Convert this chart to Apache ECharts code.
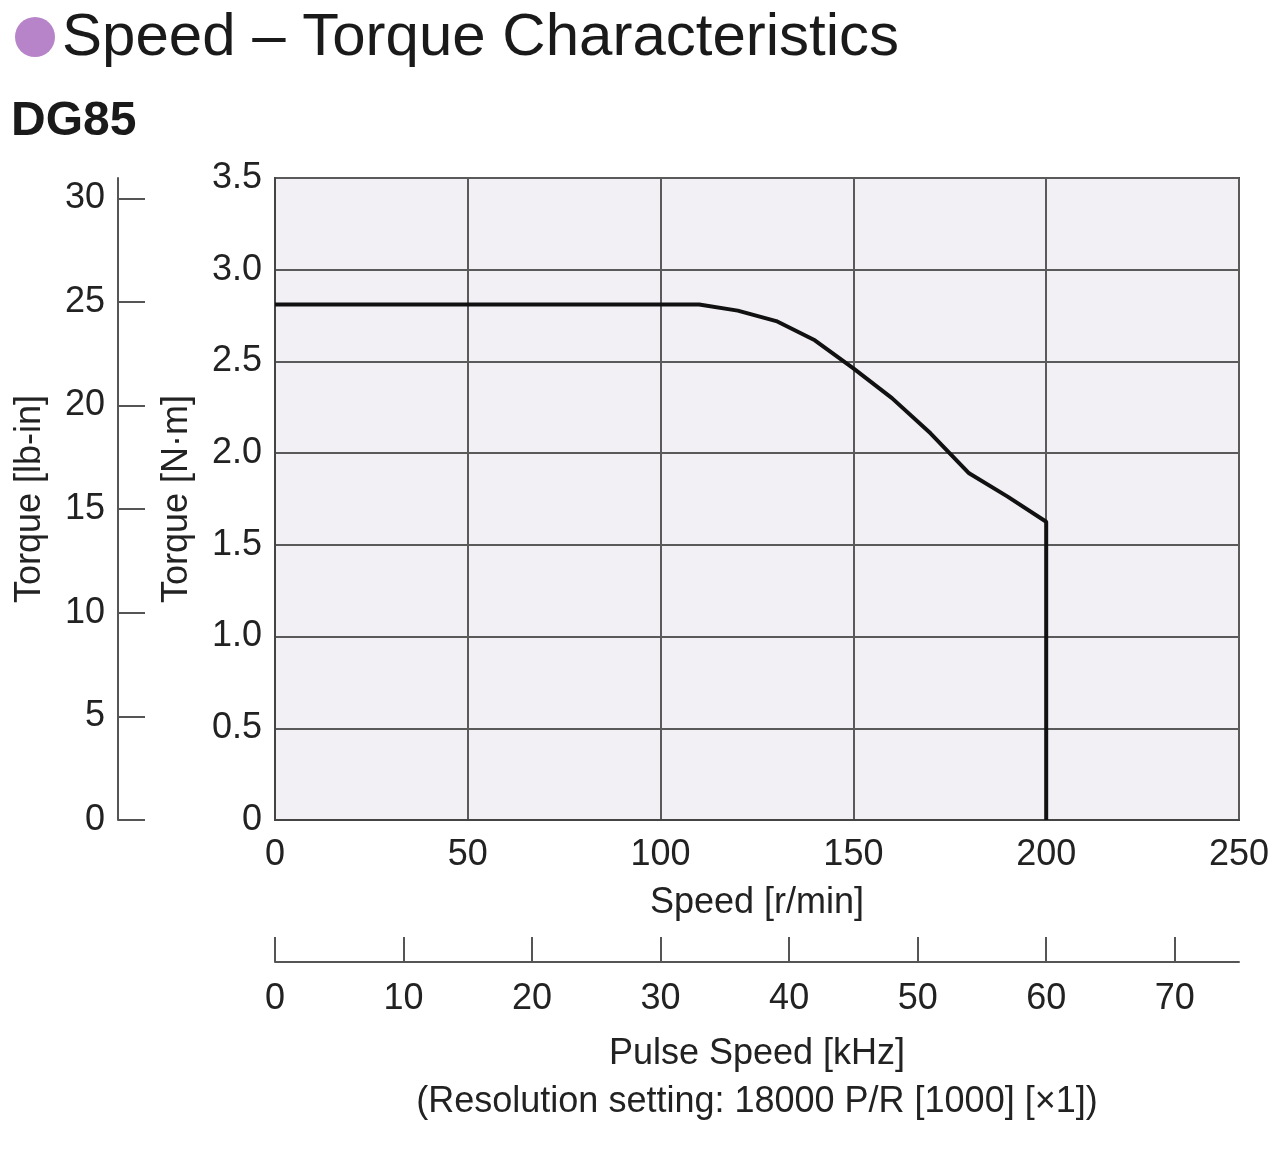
<!DOCTYPE html>
<html>
<head>
<meta charset="utf-8">
<script src="https://cdn.jsdelivr.net/npm/echarts@6/dist/echarts.min.js"></script>
<style>html,body{margin:0;padding:0;background:#fff;}#c{width:1280px;height:1155px;}</style>
</head>
<body>
<div id="c"></div>
<script>
// Data
const speed = [0, 110, 120, 130, 140, 150, 160, 170, 180, 190, 200, 200];
const torqueNm = [2.81, 2.81, 2.777, 2.72, 2.615, 2.462, 2.30, 2.108, 1.89, 1.763, 1.626, 0];
const lbinTicks = [0, 5, 10, 15, 20, 25, 30];
const pulseTicks = [0, 10, 20, 30, 40, 50, 60, 70];
const NM_TO_LBIN = 8.8507;

const FONT = 'Liberation Sans, Arial, sans-serif';
const chart = echarts.init(document.getElementById('c'), null, {renderer: 'canvas'});
const lbl = {fontFamily: FONT, fontSize: 36, color: '#222'};

chart.setOption({
  animation: false,
  backgroundColor: '#fff',
  graphic: [
    {type: 'circle', shape: {cx: 35, cy: 37, r: 20}, style: {fill: '#b784c9'}},
    {type: 'text', left: 62, top: 8, style: {text: 'Speed – Torque Characteristics', font: '60px ' + FONT, fill: '#1a1a1a'}},
    {type: 'text', left: 11, top: 98, style: {text: 'DG85', font: 'bold 48px ' + FONT, fill: '#1a1a1a'}}
  ],
  grid: {left: 275, right: 41, top: 178, bottom: 335, show: true, backgroundColor: '#f3f0f5', borderColor: '#444', borderWidth: 2},
  xAxis: [
    {
      type: 'value', min: 0, max: 250, interval: 50, position: 'bottom',
      axisLine: {show: true, lineStyle: {color: '#444', width: 2}},
      axisTick: {show: false},
      splitLine: {show: true, lineStyle: {color: '#5a5a5a', width: 2}},
      axisLabel: Object.assign({margin: 17}, lbl),
      name: 'Speed [r/min]', nameLocation: 'middle', nameGap: 65,
      nameTextStyle: lbl
    },
    {
      type: 'value', min: 0, max: 75, position: 'bottom', offset: 142,
      axisLine: {show: true, onZero: false, lineStyle: {color: '#555', width: 2}},
      axisTick: {show: true, inside: true, length: 25, customValues: pulseTicks, lineStyle: {color: '#555', width: 2}},
      splitLine: {show: false},
      axisLabel: Object.assign({margin: 19, customValues: pulseTicks}, lbl),
      name: 'Pulse Speed [kHz]\n(Resolution setting: 18000 P/R [1000] [×1])', nameLocation: 'middle', nameGap: 68,
      nameTextStyle: Object.assign({lineHeight: 48, align: 'center'}, lbl)
    }
  ],
  yAxis: [
    {
      type: 'value', min: 0, max: 3.5, interval: 0.5, position: 'left',
      axisLine: {show: true, lineStyle: {color: '#444', width: 2}},
      axisTick: {show: false},
      splitLine: {show: true, lineStyle: {color: '#5a5a5a', width: 2}},
      axisLabel: Object.assign({margin: 13, padding: [6, 0, 0, 0], formatter: v => v === 0 ? '0' : v.toFixed(1)}, lbl),
      name: 'Torque [N·m]', nameLocation: 'middle', nameGap: 80, nameRotate: 90,
      nameTextStyle: lbl
    },
    {
      type: 'value', min: 0, max: 3.5 * NM_TO_LBIN, position: 'left', offset: 157,
      axisLine: {show: true, onZero: false, lineStyle: {color: '#555', width: 2}},
      axisTick: {show: true, inside: true, length: 27, customValues: lbinTicks, lineStyle: {color: '#555', width: 2}},
      splitLine: {show: false},
      axisLabel: Object.assign({margin: 13, padding: [4, 0, 0, 0], customValues: lbinTicks}, lbl),
      name: 'Torque [lb-in]', nameLocation: 'middle', nameGap: 70, nameRotate: 90,
      nameTextStyle: lbl
    }
  ],
  series: [{
    type: 'line', xAxisIndex: 0, yAxisIndex: 0,
    data: speed.map((s, i) => [s, torqueNm[i]]),
    showSymbol: false, symbol: 'none',
    lineStyle: {color: '#111', width: 4},
    clip: true
  }]
});
</script>
</body>
</html>
